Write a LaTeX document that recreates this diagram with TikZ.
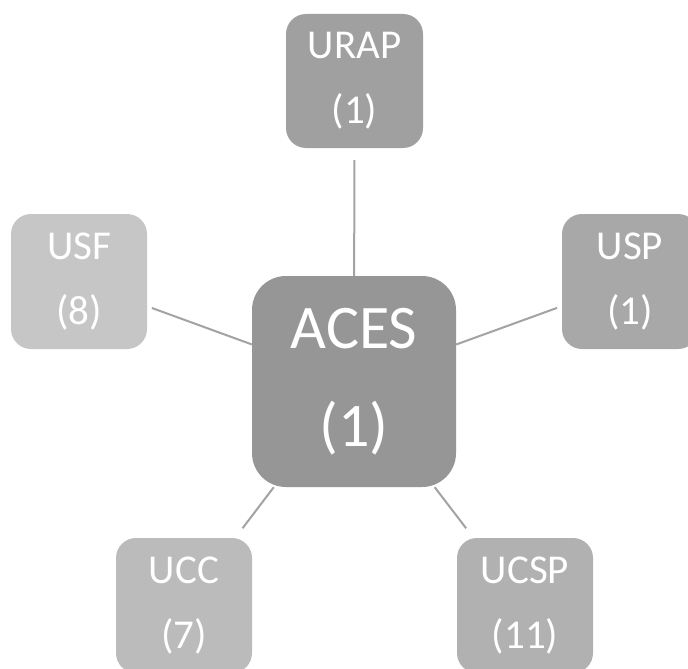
\documentclass[tikz,border=0pt]{standalone}
\usepackage{fontspec}
\setmainfont{Carlito}
\tikzset{
  unit/.style={rounded corners=20pt, minimum width=136pt, minimum height=135pt,
    text=white, align=center, inner sep=0pt, font=\fontsize{41}{65}\selectfont},
  hub/.style={unit, rounded corners=34pt, minimum width=204pt, minimum height=211pt,
    font=\fontsize{62}{98}\selectfont},
  link/.style={draw=linkcol, line width=2pt, shorten >=12pt}
}
\definecolor{linkcol}{HTML}{A3A3A3}
\begin{document}
\begin{tikzpicture}[x=1pt, y=-1pt]
\clip (0,0) rectangle (688,669);
\fill[white] (0,0) rectangle (688,669);
\definecolor{col}{HTML}{969696}
\node[hub, fill=col] (aces) at (354, 381.5) {ACES\\(1)};
\definecolor{col}{HTML}{A0A0A0}
\node[unit, fill=col, minimum width=137pt, minimum height=134pt] (urap) at (354.5, 81) {URAP\\(1)};
\definecolor{col}{HTML}{C6C6C6}
\node[unit, fill=col] (usf) at (79, 281.5) {USF\\(8)};
\definecolor{col}{HTML}{A8A8A8}
\node[unit, fill=col] (usp) at (630, 281.5) {USP\\(1)};
\definecolor{col}{HTML}{BBBBBB}
\node[unit, fill=col] (ucc) at (184, 605.5) {UCC\\(7)};
\definecolor{col}{HTML}{B1B1B1}
\node[unit, fill=col] (ucsp) at (525, 605.5) {UCSP\\(11)};
% spokes
\draw[link] (aces) -- (urap);
\draw[link, shorten >=5pt] (aces) -- (usf);
\draw[link, shorten >=5pt] (aces) -- (usp);
\draw[link] (aces) -- (ucc);
\draw[link] (aces) -- (ucsp);
\end{tikzpicture}
\end{document}
